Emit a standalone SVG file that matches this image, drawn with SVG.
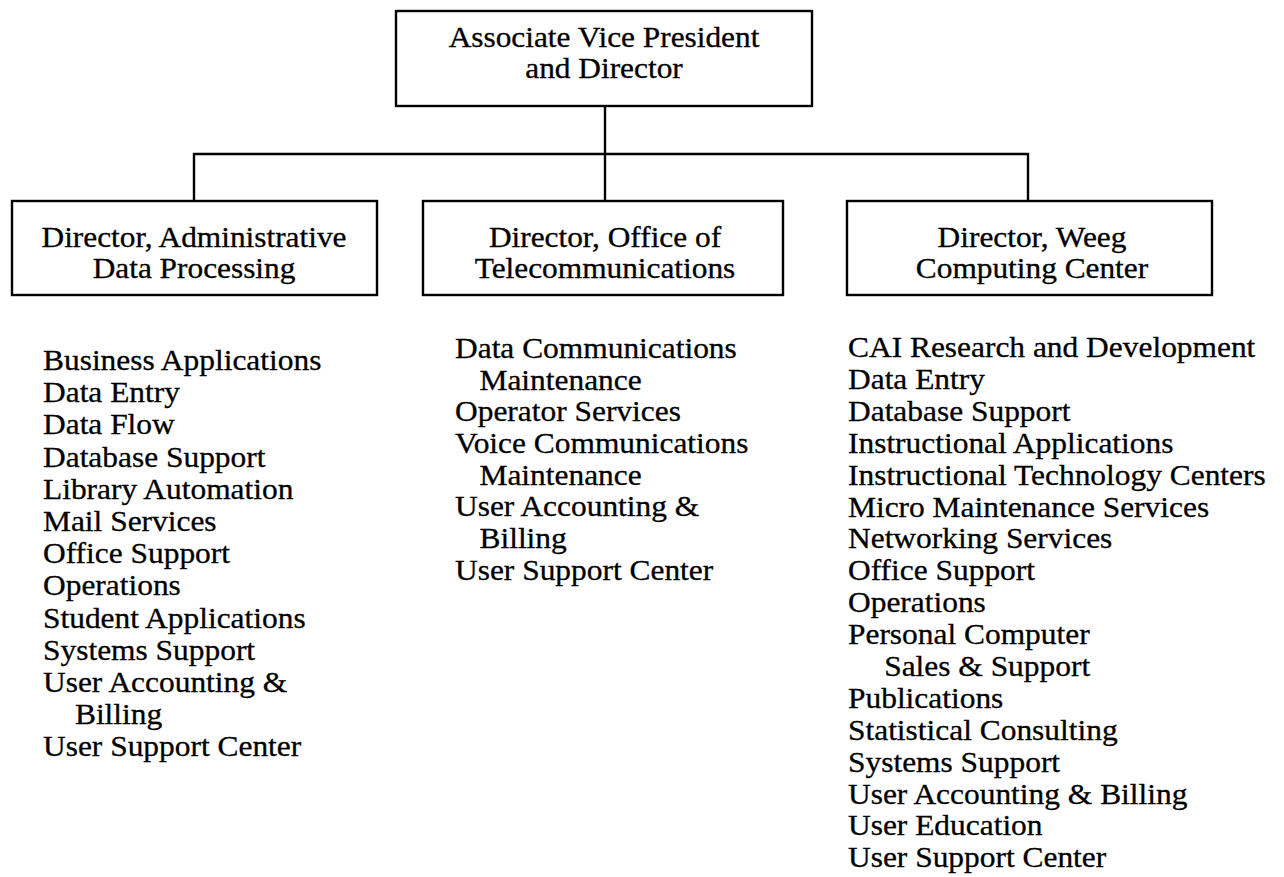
<svg xmlns="http://www.w3.org/2000/svg" width="1284" height="877" viewBox="0 0 1284 877">
  <style>
    .box { fill: #ffffff; stroke: #000000; stroke-width: 2.4; }
    .link { fill: none; stroke: #000000; stroke-width: 2.4; }
    text { font-family: "Liberation Serif", "Times New Roman", serif; font-size: 29.5px; fill: #000000; stroke: #000000; stroke-width: 0.3; }
    .title { font-size: 28.5px; }
    .mid { text-anchor: middle; }
  </style>
  <rect width="1284" height="877" fill="#ffffff"/>

  <!-- connectors -->
  <g id="connectors">
    <path class="link" d="M605,106 V154"/>
    <path class="link" d="M194,201 V154 H1028 V201"/>
    <path class="link" d="M605,154 V201"/>
  </g>

  <!-- top node -->
  <g id="node-avp">
    <rect class="box" x="396" y="11" width="416" height="95"/>
    <g transform="translate(604,0) scale(1.1,1)">
      <text class="mid title" x="0" y="47">Associate Vice President</text>
      <text class="mid title" x="0" y="78">and Director</text>
    </g>
  </g>

  <!-- administrative data processing -->
  <g id="node-adp">
    <rect class="box" x="12" y="201" width="365" height="94"/>
    <g transform="translate(194,0) scale(1.1,1)">
      <text class="mid title" x="0" y="247">Director, Administrative</text>
      <text class="mid title" x="0" y="278">Data Processing</text>
    </g>
  </g>

  <!-- telecommunications -->
  <g id="node-telecom">
    <rect class="box" x="423" y="201" width="360" height="94"/>
    <g transform="translate(605,0) scale(1.1,1)">
      <text class="mid title" x="0" y="247">Director, Office of</text>
      <text class="mid title" x="0" y="278">Telecommunications</text>
    </g>
  </g>

  <!-- weeg computing center -->
  <g id="node-weeg">
    <rect class="box" x="847" y="201" width="365" height="94"/>
    <g transform="translate(1032,0) scale(1.1,1)">
      <text class="mid title" x="0" y="247">Director, Weeg</text>
      <text class="mid title" x="0" y="278">Computing Center</text>
    </g>
  </g>

  <!-- ADP units -->
  <g id="list-adp" transform="translate(43,0) scale(1.065,1)">
    <text x="0" y="370">Business Applications</text>
    <text x="0" y="402">Data Entry</text>
    <text x="0" y="434">Data Flow</text>
    <text x="0" y="467">Database Support</text>
    <text x="0" y="499">Library Automation</text>
    <text x="0" y="531">Mail Services</text>
    <text x="0" y="563">Office Support</text>
    <text x="0" y="595">Operations</text>
    <text x="0" y="628">Student Applications</text>
    <text x="0" y="660">Systems Support</text>
    <text x="0" y="692">User Accounting &amp;</text>
    <text x="30" y="724">Billing</text>
    <text x="0" y="756">User Support Center</text>
  </g>

  <!-- telecommunications units -->
  <g id="list-telecom" transform="translate(455,0) scale(1.065,1)">
    <text x="0" y="358">Data Communications</text>
    <text x="23" y="390">Maintenance</text>
    <text x="0" y="421">Operator Services</text>
    <text x="0" y="453">Voice Communications</text>
    <text x="23" y="485">Maintenance</text>
    <text x="0" y="516">User Accounting &amp;</text>
    <text x="23" y="548">Billing</text>
    <text x="0" y="580">User Support Center</text>
  </g>

  <!-- computing center units -->
  <g id="list-weeg" transform="translate(848,0) scale(1.065,1)">
    <text x="0" y="357">CAI Research and Development</text>
    <text x="0" y="389">Data Entry</text>
    <text x="0" y="421">Database Support</text>
    <text x="0" y="453">Instructional Applications</text>
    <text x="0" y="485">Instructional Technology Centers</text>
    <text x="0" y="517">Micro Maintenance Services</text>
    <text x="0" y="548">Networking Services</text>
    <text x="0" y="580">Office Support</text>
    <text x="0" y="612">Operations</text>
    <text x="0" y="644">Personal Computer</text>
    <text x="34" y="676">Sales &amp; Support</text>
    <text x="0" y="708">Publications</text>
    <text x="0" y="740">Statistical Consulting</text>
    <text x="0" y="772">Systems Support</text>
    <text x="0" y="804">User Accounting &amp; Billing</text>
    <text x="0" y="835">User Education</text>
    <text x="0" y="867">User Support Center</text>
  </g>
</svg>
